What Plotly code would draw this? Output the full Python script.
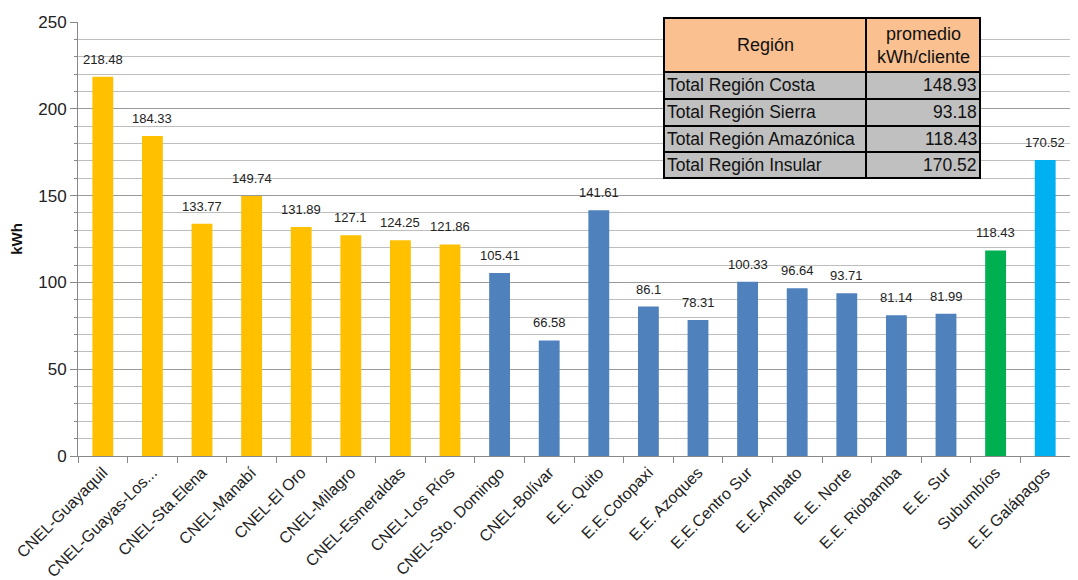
import plotly.graph_objects as go

categories = ["CNEL-Guayaquil", "CNEL-Guayas-Los...", "CNEL-Sta.Elena", "CNEL-Manabí", "CNEL-El Oro",
              "CNEL-Milagro", "CNEL-Esmeraldas", "CNEL-Los Ríos", "CNEL-Sto. Domingo", "CNEL-Bolívar",
              "E.E. Quito", "E.E.Cotopaxi", "E.E. Azoques", "E.E.Centro Sur", "E.E.Ambato",
              "E.E. Norte", "E.E. Riobamba", "E.E. Sur", "Subumbíos", "E.E Galápagos"]
values = [218.48, 184.33, 133.77, 149.74, 131.89, 127.1, 124.25, 121.86, 105.41, 66.58,
          141.61, 86.1, 78.31, 100.33, 96.64, 93.71, 81.14, 81.99, 118.43, 170.52]
regions = ["Costa"] * 8 + ["Sierra"] * 10 + ["Amazónica", "Insular"]
region_colors = {"Costa": "#FFC000", "Sierra": "#4F81BD", "Amazónica": "#00B050", "Insular": "#00B0F0"}

table_header = ["Región", "promedio<br>kWh/cliente"]
table_regions = ["Total Región Costa", "Total Región Sierra", "Total Región Amazónica", "Total Región Insular"]
table_values = ["148.93", "93.18", "118.43", "170.52"]

FONT = "Liberation Sans"

# page body has an 8px default margin; compensate so the figure lands where intended
OFF = 8
W, H = 1078 - OFF, 580 - OFF
plot_left, plot_right, plot_top, plot_bottom = 78, 1070, 22, 456
ml = plot_left - OFF
mr = W - (plot_right - OFF)
mt = plot_top - OFF
mb = H - (plot_bottom - OFF)
pw, ph = W - ml - mr, H - mt - mb

fig = go.Figure()
fig.add_trace(go.Bar(
    x=categories, y=values,
    marker=dict(color=[region_colors[r] for r in regions], line=dict(width=0)),
    width=0.42, showlegend=False, hoverinfo="x+y",
))

for c, v in zip(categories, values):
    fig.add_annotation(x=c, y=v, text=f"{v:g}", showarrow=False, yanchor="bottom",
                       yshift=8, font=dict(family=FONT, size=13, color="#222"))

def px(x):
    return (x - plot_left) / pw

def py(y):
    return (plot_bottom - y) / ph

x0, x1, x2 = 664, 866, 980
row_edges = [18, 72, 99, 126, 152, 178]
fills = ["#FAC090"] + ["#C0C0C0"] * 4
for i in range(5):
    ya, yb = row_edges[i], row_edges[i + 1]
    for (xa, xb) in [(x0, x1), (x1, x2)]:
        fig.add_shape(type="rect", xref="paper", yref="paper",
                      x0=px(xa), x1=px(xb), y0=py(yb), y1=py(ya),
                      fillcolor=fills[i], line=dict(color="#000", width=2), layer="above")

hy = (row_edges[0] + row_edges[1]) / 2
fig.add_annotation(xref="paper", yref="paper", x=px((x0 + x1) / 2), y=py(hy), text=table_header[0],
                   showarrow=False, xanchor="center", yanchor="middle",
                   font=dict(family=FONT, size=18, color="#111"))
fig.add_annotation(xref="paper", yref="paper", x=px((x1 + x2) / 2), y=py(hy), text=table_header[1],
                   showarrow=False, xanchor="center", yanchor="middle",
                   font=dict(family=FONT, size=18, color="#111"))
for i, (r, v) in enumerate(zip(table_regions, table_values)):
    yc = (row_edges[i + 1] + row_edges[i + 2]) / 2
    fig.add_annotation(xref="paper", yref="paper", x=px(x0 + 1), y=py(yc), text=r,
                       xanchor="left", yanchor="middle",
                       showarrow=False, font=dict(family=FONT, size=17.5, color="#111"))
    fig.add_annotation(xref="paper", yref="paper", x=px(x2 - 1), y=py(yc), text=v,
                       xanchor="right", yanchor="middle",
                       showarrow=False, font=dict(family=FONT, size=17.5, color="#111"))

fig.update_layout(
    width=W, height=H,
    margin=dict(l=ml, r=mr, t=mt, b=mb, autoexpand=False),
    plot_bgcolor="white", paper_bgcolor="white",
    font=dict(family=FONT, size=14, color="#222"),
    xaxis=dict(tickangle=-45, ticks="outside", tickson="boundaries", ticklen=6, tickcolor="#888",
               showline=True, linecolor="#888", linewidth=1, showgrid=False, automargin=False,
               tickfont=dict(family=FONT, size=16, color="#222")),
    yaxis=dict(range=[0, 250], dtick=50, ticks="outside", ticklen=7, tickcolor="#888",
               showline=True, linecolor="#888", linewidth=1, automargin=False,
               gridcolor="#9A9A9A", gridwidth=1,
               minor=dict(dtick=10, showgrid=True, gridcolor="#BEBEBE", gridwidth=1,
                          ticks="outside", ticklen=3, tickcolor="#888"),
               tickfont=dict(family=FONT, size=17, color="#222"),
               title=dict(text="<b>kWh</b>", font=dict(family=FONT, size=15, color="#111"), standoff=16)),
)

fig.write_html("out.html")
